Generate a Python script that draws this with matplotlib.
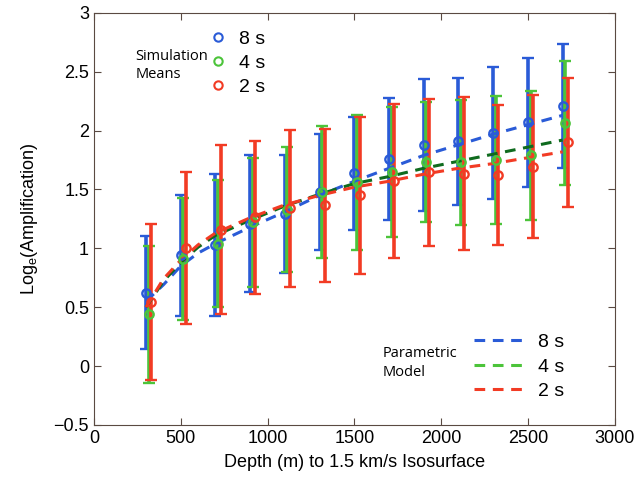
import numpy as np
import matplotlib
matplotlib.use("Agg")
import matplotlib.pyplot as plt
from matplotlib.lines import Line2D

plt.rcParams['font.family'] = ['Liberation Sans', 'DejaVu Sans']
plt.rcParams['mathtext.fontset'] = 'custom'
plt.rcParams['mathtext.rm'] = 'Liberation Sans'
plt.rcParams['mathtext.it'] = 'Liberation Sans'

# simulation means (depth bins, m)
depth = np.array([300, 500, 700, 900, 1100, 1300, 1500, 1700, 1900, 2100, 2300, 2500, 2700])
mean_8s = [0.625, 0.94, 1.03, 1.21, 1.29, 1.48, 1.64, 1.76, 1.88, 1.91, 1.98, 2.07, 2.21]
err_8s = [0.48, 0.515, 0.605, 0.58, 0.50, 0.495, 0.48, 0.52, 0.56, 0.54, 0.56, 0.545, 0.525]
mean_4s = [0.44, 0.91, 1.04, 1.22, 1.33, 1.48, 1.56, 1.65, 1.73, 1.73, 1.75, 1.79, 2.065]
err_4s = [0.58, 0.52, 0.54, 0.55, 0.53, 0.56, 0.57, 0.55, 0.51, 0.53, 0.54, 0.55, 0.53]
mean_2s = [0.545, 1.005, 1.16, 1.265, 1.34, 1.365, 1.45, 1.57, 1.645, 1.635, 1.62, 1.695, 1.90]
err_2s = [0.665, 0.647, 0.718, 0.65, 0.667, 0.65, 0.665, 0.653, 0.625, 0.651, 0.594, 0.605, 0.547]

# parametric model curves
model_depth = [300, 400, 500, 600, 700, 900, 1100, 1300, 1500, 1700, 1900, 2100, 2300, 2500, 2700]
model_8s = [0.55, 0.69, 0.85, 0.96, 1.04, 1.18, 1.31, 1.45, 1.57, 1.68, 1.79, 1.88, 1.97, 2.05, 2.13]
model_4s = [0.50, 0.72, 0.88, 1.01, 1.11, 1.24, 1.36, 1.46, 1.55, 1.61, 1.68, 1.74, 1.80, 1.86, 1.92]
model_2s = [0.50, 0.74, 0.90, 1.03, 1.13, 1.26, 1.37, 1.45, 1.52, 1.57, 1.63, 1.68, 1.72, 1.77, 1.82]

blue = '#2a5bd7'
green = '#4cc43a'
dgreen = '#0f6b1e'
red = '#f23b24'

fig = plt.figure(figsize=(6.39, 4.78), dpi=100)
ax = fig.add_axes([0.147, 0.111, 0.815, 0.862])

shift = [0, 15, 30]
for (m, e, c, s) in [(mean_8s, err_8s, blue, shift[0]),
                     (mean_4s, err_4s, green, shift[1]),
                     (mean_2s, err_2s, red, shift[2])]:
    ax.errorbar(depth + s, m, yerr=e, fmt='o', mfc='none', mec=c, ecolor=c,
                ms=6, mew=1.7, elinewidth=2.6, capsize=4, capthick=2.2)

ax.plot(model_depth, model_8s, '--', color=blue, lw=2.2, dashes=(3.5, 2.5))
ax.plot(model_depth, model_4s, '--', color=dgreen, lw=2.2, dashes=(3.5, 2.5))
ax.plot(model_depth, model_2s, '--', color=red, lw=2.2, dashes=(3.5, 2.5))

ax.set_xlim(0, 3000)
ax.set_ylim(-0.5, 3)
ax.set_xticks(np.arange(0, 3001, 500))
ax.set_yticks(np.arange(-0.5, 3.01, 0.5))
ax.set_yticklabels(['−0.5', '0', '0.5', '1', '1.5', '2', '2.5', '3'])
ax.tick_params(direction='in', top=True, right=True, length=5, labelsize=13,
               color='#5a4a42')
for sp in ax.spines.values():
    sp.set_color('#5a4a42')
ax.set_xlabel('Depth (m) to 1.5 km/s Isosurface', fontsize=13, labelpad=5)
ax.set_ylabel(r'Log$_{\mathrm{e}}$(Amplification)', fontsize=13, labelpad=10)

# simulation legend
h1 = [Line2D([], [], ls='none', marker='o', mfc='none', mec=c, ms=6, mew=1.5)
      for c in [blue, green, red]]
leg1 = ax.legend(h1, ['8 s', '4 s', '2 s'], loc='upper left', bbox_to_anchor=(0.195, 0.993),
                 frameon=False, fontsize=14, handlelength=0.8, handletextpad=0.7,
                 labelspacing=0.32, borderaxespad=0.35)
ax.add_artist(leg1)
ax.text(0.08, 0.872, 'Simulation\nMeans', transform=ax.transAxes, fontsize=10.5,
        family=['Open Sans', 'DejaVu Sans'], va='center', ha='left', linespacing=1.3)

# model legend
h2 = [Line2D([], [], ls='--', color=c, lw=2.2, dashes=(3.5, 2.5)) for c in [blue, green, red]]
ax.legend(h2, ['8 s', '4 s', '2 s'], loc='lower left', bbox_to_anchor=(0.703, 0.027),
          frameon=False, fontsize=14, handlelength=2.8, handletextpad=0.5,
          labelspacing=0.36, borderaxespad=0.3)
ax.text(0.555, 0.15, 'Parametric\nModel', transform=ax.transAxes, fontsize=10.5,
        family=['Open Sans', 'DejaVu Sans'], va='center', ha='left', linespacing=1.3)

fig.savefig('out.png', dpi=100)
